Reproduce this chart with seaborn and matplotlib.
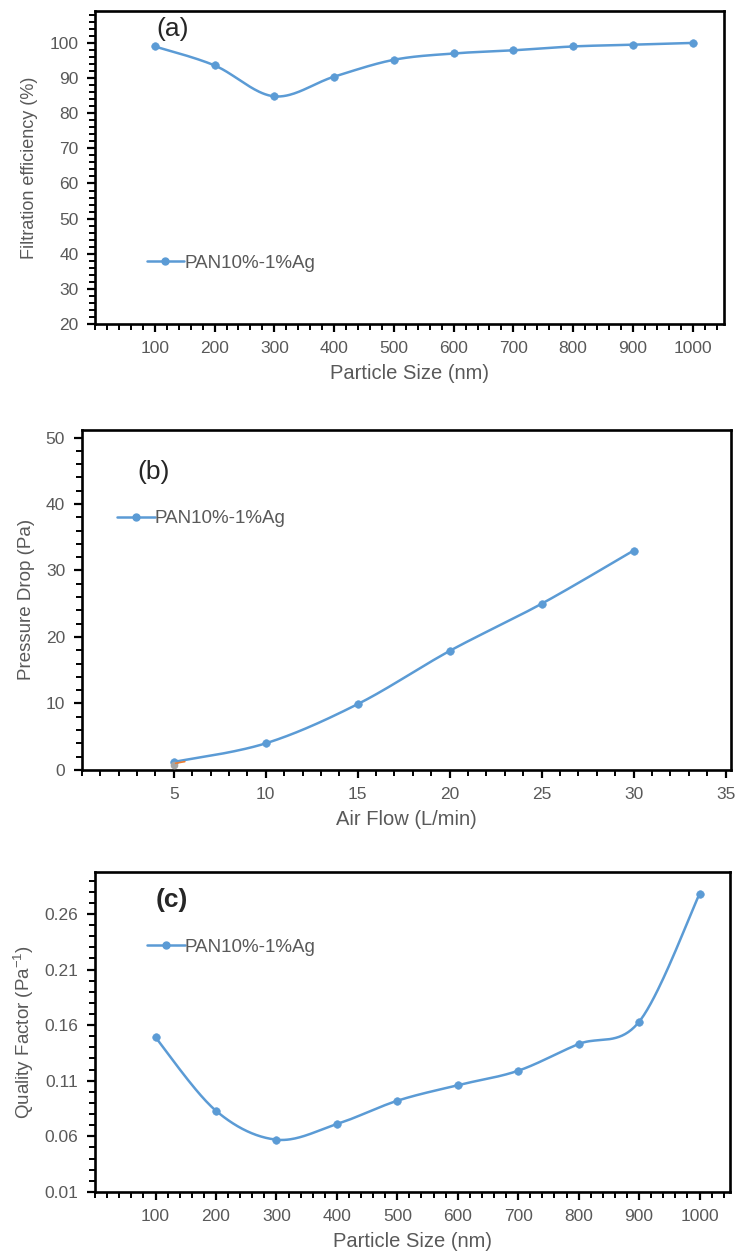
import numpy as np
import seaborn as sns
import matplotlib.pyplot as plt
from matplotlib.lines import Line2D
from matplotlib.ticker import MultipleLocator

# Data
size_nm = [100, 200, 300, 400, 500, 600, 700, 800, 900, 1000]
efficiency = [99.0, 93.6, 84.8, 90.4, 95.2, 97.0, 97.9, 99.0, 99.5, 100.0]

air_flow = [5, 10, 15, 20, 25, 30]
pressure_drop = [1.2, 4.0, 9.9, 17.9, 25.0, 33.0]

quality = [0.149, 0.083, 0.057, 0.071, 0.092, 0.106, 0.119, 0.143, 0.163, 0.278]

series_name = 'PAN10%-1%Ag'

BLUE = '#5B9BD5'
GREY = '#595959'

sns.set_style('white')
plt.rcParams['font.family'] = ['Liberation Sans', 'DejaVu Sans']
plt.rcParams['mathtext.fontset'] = 'custom'
plt.rcParams['mathtext.rm'] = 'Liberation Sans'


def smooth(x, y, n=40):
    # Catmull-Rom curve through the points (Excel-style smoothed line)
    pts = np.column_stack([x, y]).astype(float)
    p = np.vstack([pts[0], pts, pts[-1]])
    t = np.linspace(0, 1, n)[:, None]
    out = []
    for i in range(1, len(p) - 2):
        p0, p1, p2, p3 = p[i - 1], p[i], p[i + 1], p[i + 2]
        seg = 0.5 * (2 * p1 + (-p0 + p2) * t + (2 * p0 - 5 * p1 + 4 * p2 - p3) * t ** 2
                     + (-p0 + 3 * p1 - 3 * p2 + p3) * t ** 3)
        out.append(seg)
    return np.vstack(out)


def style_axes(ax):
    for s in ax.spines.values():
        s.set_color('black')
        s.set_linewidth(1.9)
    ax.tick_params(which='major', direction='out', length=6, width=1.6, color='black',
                   labelcolor=GREY, labelsize=12.5, left=True, bottom=True, pad=6)
    ax.tick_params(which='minor', direction='out', length=4, width=1.4, color='black',
                   left=True, bottom=True)


def draw(ax, x, y):
    c = smooth(x, y)
    ax.plot(c[:, 0], c[:, 1], color=BLUE, lw=1.8, zorder=2)
    sns.scatterplot(x=x, y=y, ax=ax, color=BLUE, s=30, edgecolor=BLUE, zorder=3, legend=False)


def legend(ax, loc):
    h = Line2D([], [], color=BLUE, lw=1.8, marker='o', markersize=5)
    ax.legend([h], [series_name], loc='upper left', bbox_to_anchor=loc, frameon=False,
              fontsize=13.5, labelcolor=GREY, handlelength=2.0, handletextpad=0.0,
              borderaxespad=0)


fig = plt.figure(figsize=(7.37, 12.56), dpi=100)
ax1 = fig.add_axes([0.129, 0.742, 0.853, 0.249])
ax2 = fig.add_axes([0.111, 0.387, 0.881, 0.271])
ax3 = fig.add_axes([0.129, 0.051, 0.862, 0.255])

# (a) filtration efficiency
draw(ax1, size_nm, efficiency)
ax1.set_xlim(0, 1052)
ax1.set_ylim(20, 109)
ax1.set_xticks(size_nm)
ax1.set_yticks(range(20, 101, 10))
ax1.xaxis.set_minor_locator(MultipleLocator(20))
ax1.yaxis.set_minor_locator(MultipleLocator(2))
ax1.set_xlabel('Particle Size (nm)', fontsize=14.5, color=GREY, labelpad=6)
ax1.set_ylabel('Filtration efficiency (%)', fontsize=13, color=GREY, labelpad=8)
ax1.text(0.097, 0.945, '(a)', transform=ax1.transAxes, fontsize=19, va='center')
legend(ax1, (0.07, 0.245))
style_axes(ax1)

# (b) pressure drop
draw(ax2, air_flow, pressure_drop)
ax2.scatter([5], [0.8], color='#A5A5A5', s=20, zorder=4)
ax2.plot([5.1, 5.6], [1.0, 1.25], color='#ED7D31', lw=1.2, zorder=4)
ax2.set_xlim(0, 35.3)
ax2.set_ylim(0, 51.2)
ax2.set_xticks(range(5, 36, 5))
ax2.set_yticks(range(0, 51, 10))
ax2.xaxis.set_minor_locator(MultipleLocator(1))
ax2.yaxis.set_minor_locator(MultipleLocator(2))
ax2.set_xlabel('Air Flow (L/min)', fontsize=14.5, color=GREY, labelpad=6)
ax2.set_ylabel('Pressure Drop (Pa)', fontsize=13.5, color=GREY, labelpad=8)
ax2.text(0.085, 0.875, '(b)', transform=ax2.transAxes, fontsize=19, va='center')
legend(ax2, (0.043, 0.785))
style_axes(ax2)

# (c) quality factor
draw(ax3, size_nm, quality)
ax3.set_xlim(0, 1051)
ax3.set_ylim(0.01, 0.298)
ax3.set_xticks(size_nm)
ax3.set_yticks([0.01, 0.06, 0.11, 0.16, 0.21, 0.26])
ax3.set_yticklabels(['0.01', '0.06', '0.11', '0.16', '0.21', '0.26'])
ax3.xaxis.set_minor_locator(MultipleLocator(20))
ax3.yaxis.set_minor_locator(MultipleLocator(0.01))
ax3.set_xlabel('Particle Size (nm)', fontsize=14.5, color=GREY, labelpad=6)
ax3.set_ylabel('Quality Factor (Pa$^{\\mathregular{-1}}$)', fontsize=13.5, color=GREY, labelpad=6)
ax3.text(0.095, 0.91, '(c)', transform=ax3.transAxes, fontsize=19, va='center',
         fontweight='bold')
legend(ax3, (0.07, 0.815))
style_axes(ax3)

fig.savefig('out.png', dpi=100)
